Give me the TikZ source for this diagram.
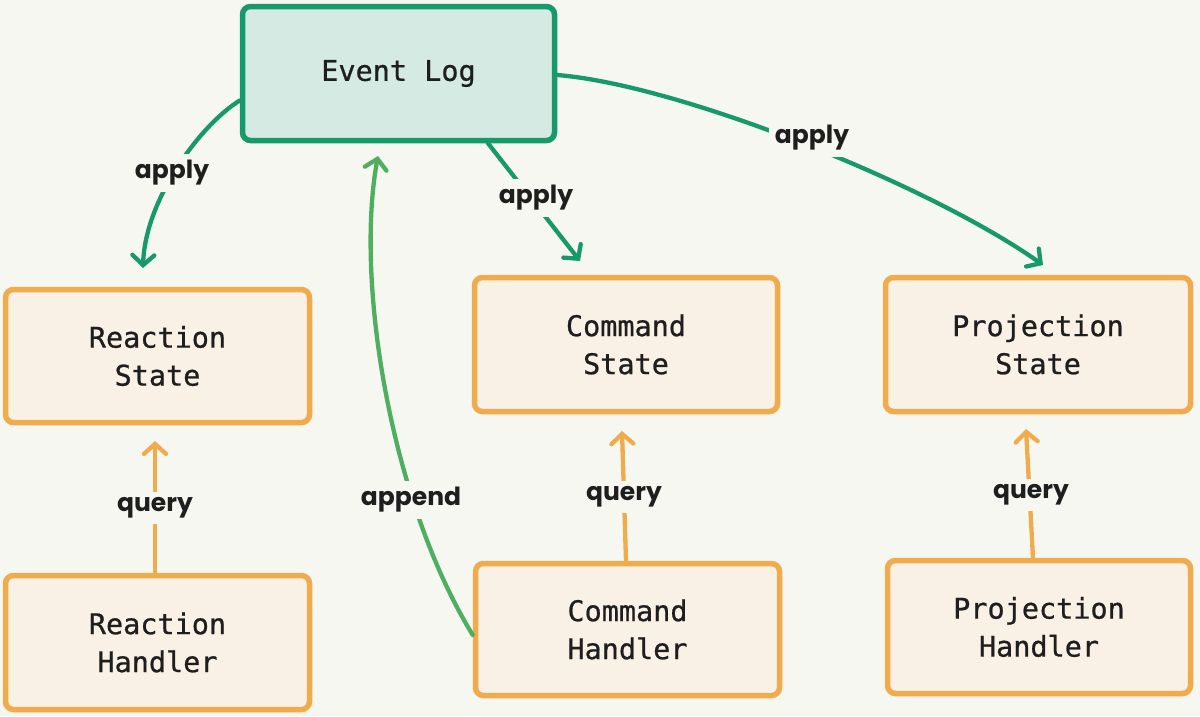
\documentclass[tikz,border=0pt]{standalone}
\usepackage{fontspec}
\newfontfamily\boxfont{DejaVu Sans Mono}[FakeBold=0.7]
\newfontfamily\handfont{Poppins}
\usetikzlibrary{arrows.meta}
\definecolor{bg}{HTML}{F7F7F2}
\definecolor{elg}{HTML}{17996B}
\definecolor{elfill}{HTML}{D4EAE3}
\definecolor{org}{HTML}{F0AB4C}
\definecolor{orfill}{HTML}{FAF1E6}
\definecolor{appg}{HTML}{4DAF5F}
\definecolor{txt}{HTML}{1E1E1E}
\begin{document}
\begin{tikzpicture}[x=1pt,y=-1pt,
 box/.style={rounded corners=8pt, line width=5.5pt, align=center, inner sep=0pt,
   font=\boxfont\fontsize{28.5}{38}\selectfont, text=txt},
 gbox/.style={box, draw=elg, fill=elfill},
 obox/.style={box, draw=org, fill=orfill},
 conn/.style={line width=4.3pt, line cap=round,
   -{Straight Barb[length=10pt,width=22pt,line width=4.3pt,line cap=round]}},
 gconn/.style={conn, draw=elg},
 aconn/.style={conn, draw=appg},
 oconn/.style={conn, draw=org},
 lbl/.style={fill=bg, inner sep=6pt, text=txt,
   font=\handfont\bfseries\fontsize{25}{25}\selectfont}]
\useasboundingbox[fill=bg] (0,0) rectangle (1200,716);

% boxes
\node[gbox, minimum width=312pt, minimum height=134pt] (el) at (398.5,73.5) {Event Log};
\node[obox, minimum width=304pt, minimum height=133pt] (rs) at (157.5,356) {Reaction\\State};
\node[obox, minimum width=304pt, minimum height=134pt] (rh) at (157.5,642.5) {Reaction\\Handler};
\node[obox, minimum width=303pt, minimum height=134pt] (cs) at (626,344.5) {Command\\State};
\node[obox, minimum width=304pt, minimum height=132pt] (ch) at (627.5,629.5) {Command\\Handler};
\node[obox, minimum width=305pt, minimum height=134pt] (ps) at (1038,344.5) {Projection\\State};
\node[obox, minimum width=303pt, minimum height=133pt] (ph) at (1039,627) {Projection\\Handler};

% free arrow ends
\coordinate (t1) at (143,268);
\coordinate (t2) at (580,261);
\coordinate (t3) at (1043,265);
\coordinate (t4) at (378,156);
\coordinate (q1) at (155,441);
\coordinate (q2) at (622,431);
\coordinate (q3) at (1026,429);

% connectors
\draw[gconn] ([yshift=-27pt]el.west) .. controls (200,125) and (145,200) .. (t1);
\draw[gconn] ([xshift=89.5pt]el.south) -- (t2);
\draw[gconn] ([yshift=-1.5pt]el.east) .. controls (680,85) and (930,185) .. (t3);
\draw[aconn] ([yshift=-5.5pt]ch.west) .. controls (390,500) and (355,280) .. (t4);
\draw[oconn] ([xshift=-2.5pt]rh.north) -- (q1);
\draw[oconn] ([xshift=-1.5pt]ch.north) -- (q2);
\draw[oconn] ([xshift=-6pt]ph.north) -- (q3);

% labels
\node[lbl] (l1) at (172,173) {apply};
\node[lbl] (l2) at (536,198) {apply};
\node[lbl] (l3) at (812,138) {apply};
\node[lbl] (l4) at (411,500) {append};
\node[lbl] (l5) at (155,508) {query};
\node[lbl] (l6) at (624,497) {query};
\node[lbl] (l7) at (1031,495) {query};
\end{tikzpicture}
\end{document}
